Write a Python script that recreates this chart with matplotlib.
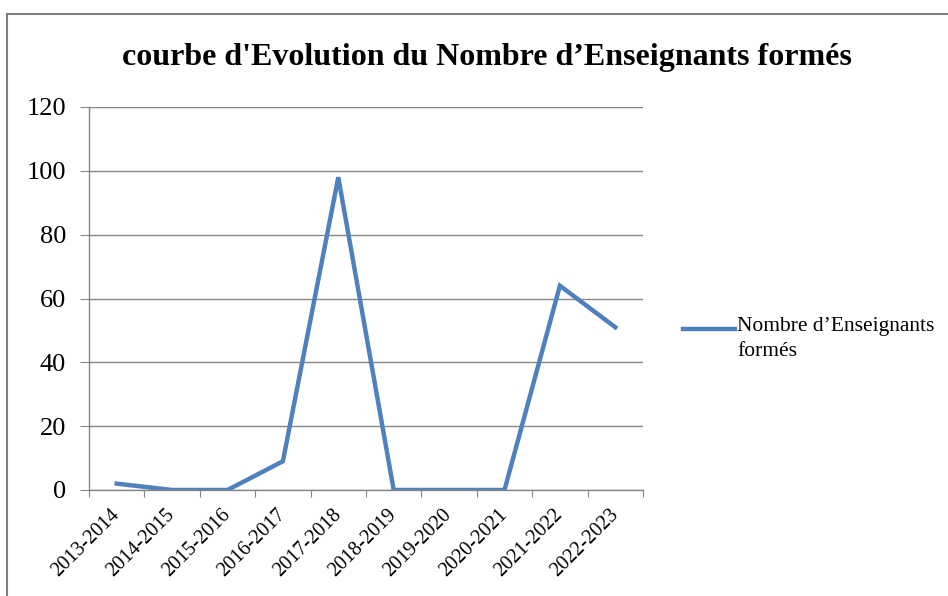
import matplotlib
matplotlib.use("Agg")
import matplotlib.pyplot as plt
from matplotlib.patches import Rectangle
from matplotlib.lines import Line2D
import numpy as np

categories = ["2013-2014", "2014-2015", "2015-2016", "2016-2017", "2017-2018",
              "2018-2019", "2019-2020", "2020-2021", "2021-2022", "2022-2023"]
values = [2, 0, 0, 9, 98, 0, 0, 0, 64, 51]
series_name = "Nombre d\u2019Enseignants\nformés"
title = "courbe d'Evolution du Nombre d\u2019Enseignants formés"
yticks = [0, 20, 40, 60, 80, 100, 120]

plt.rcParams['font.family'] = ['Liberation Serif', 'DejaVu Serif']

W, H = 948, 596
fig = plt.figure(figsize=(W/100, H/100), dpi=100)
line_color = '#4F81BD'

# outer chart border (top and left visible)
fig.patches.append(Rectangle((7/W, -0.1), 1.2, (H-14)/H + 0.1, transform=fig.transFigure,
                             fill=False, edgecolor='#7f7f7f', linewidth=1.5))

ax = fig.add_axes([89/W, 1-490/H, (643-89)/W, (490-107)/H])
x = np.arange(len(categories))
ax.plot(x, values, color=line_color, linewidth=3.2, solid_joinstyle='miter')
ax.set_xlim(-0.5, len(categories) - 0.5)
ax.set_ylim(0, 120)
ax.set_yticks(yticks)
ax.set_yticklabels([str(v) for v in yticks], fontsize=19)
ax.yaxis.grid(True, color='#868686', linewidth=1)
ax.set_axisbelow(True)
for s in ['top', 'right']:
    ax.spines[s].set_visible(False)
for s in ['left', 'bottom']:
    ax.spines[s].set_color('#868686')
    ax.spines[s].set_linewidth(1)
ax.tick_params(axis='y', length=6.5, color='#868686', pad=10)
ax.set_xticks(np.arange(-0.5, len(categories), 1.0))
ax.set_xticklabels([])
ax.tick_params(axis='x', length=5, color='#868686')
ax.set_xticks(x, minor=True)
ax.set_xticklabels(categories, minor=True, rotation=45, ha='right', va='center',
                   rotation_mode='anchor', fontsize=14.5)
ax.tick_params(axis='x', which='minor', length=0, pad=16)

fig.text(487/W, 1-57/H, title, ha='center', va='center', fontsize=23,
         fontweight='bold')

# legend
fig.add_artist(Line2D([683/W, 735/W], [1-329/H, 1-329/H], transform=fig.transFigure,
                      color=line_color, linewidth=3.2))
fig.text(737/W, 1-317/H, series_name, ha='left', va='top', fontsize=15.5,
         linespacing=1.45, transform=fig.transFigure)

fig.savefig("out.png", dpi=100)
